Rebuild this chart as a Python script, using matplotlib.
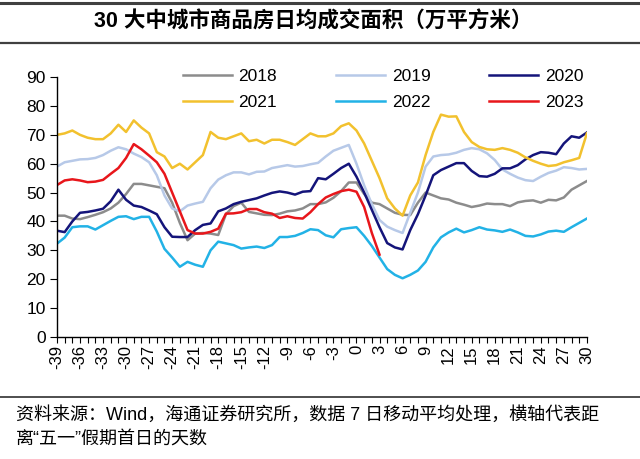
import matplotlib
matplotlib.use('Agg')
import matplotlib.pyplot as plt
from matplotlib.lines import Line2D

plt.rcParams['font.family'] = ['Liberation Sans', 'Noto Sans CJK SC']

# days relative to the first day of the May Day holiday
days = list(range(-39, 31))

v2018 = [42, 42, 41, 40.8, 41.5, 42.3, 43.2, 44.5, 46.5, 49.5,
         53, 53, 52.5, 52, 51.5, 46.5, 39.5, 33.5, 35.8, 36,
         35.8, 35.3, 42.5, 45.3, 46.5, 43.3, 42.8, 42.3, 42.2, 42.7,
         43.5, 43.8, 44.5, 46, 46, 46.6, 48.2, 50.5, 53.5, 53.5,
         49.5, 46.5, 46, 44.5, 43, 42.3, 42.2, 46.5, 50, 49,
         48, 47.6, 46.5, 45.8, 45, 45.5, 46.2, 46, 46, 45.3,
         46.6, 47.1, 47.3, 46.5, 47.5, 47.3, 48.3, 51, 52.5, 54]
v2019 = [59, 60.5, 61, 61.5, 61.6, 62, 63, 64.5, 65.7, 65,
         63.5, 62.3, 60.5, 56, 49, 44.5, 43.5, 45.5, 46.2, 46.8,
         51.5, 54.5, 56, 57, 57, 56.3, 57.2, 57.3, 58.5, 59,
         59.5, 59, 59.2, 59.8, 60.3, 62.5, 64.5, 65.5, 66.5, 60,
         52.5, 46, 40.5, 38.2, 37, 36, 43, 50, 59, 62.5,
         63, 63.2, 63.8, 64.8, 65.4, 65, 63.6, 61.3, 58, 56.5,
         55.2, 54.3, 54, 55.5, 56.8, 57.6, 58.8, 58.5, 58, 58.2]
v2020 = [36.8, 36.3, 40, 43, 43.3, 43.8, 44.4, 47, 51, 47.5,
         45.5, 45, 43.8, 42.5, 38, 34.7, 34.6, 34.6, 37, 38.8,
         39.3, 43.5, 44.5, 46, 46.8, 47.4, 48, 49, 49.9, 50.4,
         50, 49.3, 50.3, 50.5, 55, 54.6, 56.5, 58.5, 60, 55.5,
         50, 44, 38, 32.5, 31, 30.3, 37, 42.5, 49, 56,
         57.8, 59, 60.2, 60.2, 57.5, 55.7, 55.5, 56.5, 58.4, 58.4,
         59.5, 61.5, 63, 64, 63.8, 63.3, 67, 69.5, 69, 70.8]
v2021 = [70, 70.5, 71.5, 70, 69, 68.5, 68.5, 70.5, 73.5, 71,
         75, 72.5, 70.5, 64, 62.5, 58.5, 60, 58, 60.5, 63,
         71, 69, 68.5, 69.5, 70.5, 67.8, 68.3, 67, 68.3, 68.3,
         67.5, 66.5, 68.5, 70.5, 69.5, 69.5, 70.5, 73, 74, 71.5,
         67, 61, 55, 48, 44.5, 42, 49, 53.5, 63, 71,
         77, 76.3, 76.4, 71, 67.5, 65.8, 65, 64.8, 65.4, 64.8,
         63.8, 62.2, 61, 60, 59.2, 59.5, 60.5, 61.2, 62, 70.5]
v2022 = [32.3, 34.4, 38, 38.3, 38.3, 37.2, 38.7, 40.2, 41.6, 41.8,
         40.8, 41.6, 41.6, 36.5, 30.5, 27.5, 24.3, 26, 25, 24.3,
         30, 33, 32.4, 31.8, 30.6, 31, 31.3, 30.8, 31.8, 34.6,
         34.6, 35, 36, 37.3, 37, 35.2, 34.5, 37.3, 37.7, 38,
         35, 31.5, 27.5, 23.5, 21.5, 20.3, 21.5, 23, 26, 31,
         34.5, 36.2, 37.5, 36.2, 37, 38, 37.2, 36.9, 36.4, 37.2,
         36.2, 35, 34.8, 35.5, 36.5, 36.8, 36.4, 38, 39.5, 41]
# 2023 only runs up to day 3
v2023 = [52.6, 54.2, 54.6, 54.2, 53.6, 53.8, 54.4, 56.5, 58.5, 62,
         66.8, 65, 62.8, 60.5, 56.5, 50, 43.5, 37, 35.8, 35.8,
         36.4, 37.5, 42.7, 42.8, 43.2, 44.3, 44.3, 43.2, 42.7, 41.2,
         41.8, 41.2, 41, 43.2, 46, 48.3, 49.5, 50.5, 51, 50.3,
         45, 36, 28.5]

series = [
    ('2018', v2018, '#8c8c8c'),
    ('2019', v2019, '#b7c9e8'),
    ('2020', v2020, '#14147a'),
    ('2021', v2021, '#f2c12e'),
    ('2022', v2022, '#22b2e6'),
    ('2023', v2023, '#e8161b'),
]

fig = plt.figure(figsize=(6.4, 4.59), dpi=100)
ax = fig.add_axes([0.089, 0.266, 0.828, 0.566])

lines = {}
for name, vals, color in series:
    lines[name], = ax.plot(days[:len(vals)], vals, color=color, lw=1.8, label=name)

ax.set_xlim(-39, 30)
ax.set_ylim(0, 90)
ax.set_yticks(range(0, 91, 10))
ax.set_xticks(days)
ax.set_xticklabels([str(d) if d % 3 == 0 else '' for d in days], rotation=90)
ax.tick_params(axis='x', length=4, width=0.8, labelsize=12, pad=2)
ax.tick_params(axis='y', length=5, width=0.8, labelsize=12.5, pad=3)
for side in ('top', 'right'):
    ax.spines[side].set_visible(False)
for side in ('left', 'bottom'):
    ax.spines[side].set_linewidth(1.0)

# legend reads row by row: 2018 2019 2020 / 2021 2022 2023
order = ['2018', '2021', '2019', '2022', '2020', '2023']
fig.legend([lines[k] for k in order], order, ncol=3, frameon=False,
           loc='upper left', bbox_to_anchor=(0.275, 0.865), fontsize=12.5,
           handlelength=2.8, handletextpad=0.4, columnspacing=3.4,
           labelspacing=0.6, borderaxespad=0)

# rules and texts around the plot
for y, lw in ((0.993, 2.2), (0.906, 1.6), (0.135, 1.3)):
    fig.add_artist(Line2D([0, 1], [y, y], color='#404040', lw=lw))

fig.text(0.49, 0.952, '30 大中城市商品房日均成交面积（万平方米）',
         ha='center', va='center', fontsize=15.5, fontweight='bold')
fig.text(0.025, 0.096, '资料来源：Wind，海通证券研究所，数据 7 日移动平均处理，横轴代表距',
         ha='left', va='center', fontsize=13)
fig.text(0.025, 0.043, '离“五一”假期首日的天数',
         ha='left', va='center', fontsize=13)

fig.savefig('out.png', dpi=100)
